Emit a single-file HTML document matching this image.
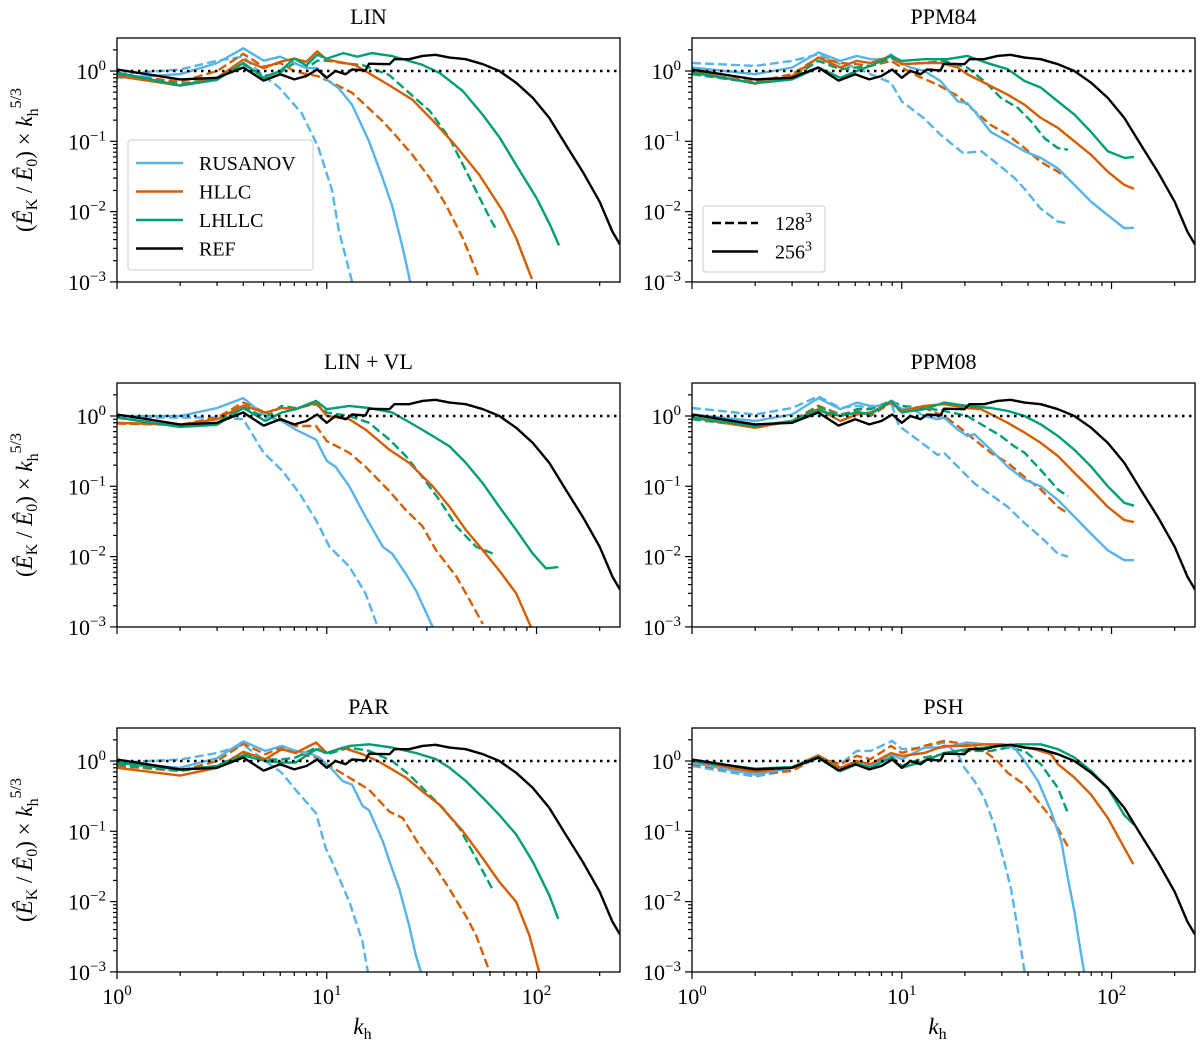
<!DOCTYPE html>
<html><head><meta charset="utf-8">
<style>
html,body{margin:0;padding:0;background:#fff;}
svg{display:block;font-family:"Liberation Serif","DejaVu Serif",serif;}
</style></head>
<body>
<svg id="fig" xmlns="http://www.w3.org/2000/svg" width="1200" height="1046" viewBox="0 0 1200 1046"></svg>
<script>
// ---------- DATA (k, value) ----------
const REF = [[1,1.05],[2,0.76],[3,0.8],[4,1.12],[5,0.73],[6,0.9],[7,0.76],[8,0.85],[9,1.05],[10,0.8],[11,1.0],[12.3,0.9],[13.2,1.05],[15.3,1.02],[15.9,1.27],[19.9,1.25],[21,1.47],[24.7,1.47],[28.6,1.64],[33,1.7],[38.5,1.55],[46,1.47],[55.5,1.25],[66.5,1.0],[80,0.68],[96,0.415],[115,0.215],[138,0.089],[166,0.037],[200,0.0138],[230,0.0052],[250,0.0034]];

const LIN_RUS_128 = [[1,0.9],[2,1.05],[3,1.4],[4,1.6],[5,0.85],[5.9,0.59],[7.6,0.25],[9.1,0.083],[10.6,0.02],[11.4,0.0055],[13.2,0.001]];
const LIN_RUS_256 = [[1,0.8],[2,0.9],[3,1.3],[4,2.1],[5,1.4],[6,1.6],[7,1.3],[8,1.1],[9,1.1],[10,0.75],[11.4,0.57],[13.2,0.33],[15.9,0.1],[18.4,0.031],[20.5,0.012],[23,0.0031],[25,0.001]];
const LIN_HLLC_128 = [[1,0.9],[2,0.7],[3,1.0],[4,1.75],[5,1.15],[6,1.3],[7,1.0],[8,0.9],[9,0.85],[10.2,0.72],[13.2,0.49],[18.4,0.195],[21.2,0.123],[25.6,0.064],[31,0.03],[37,0.0124],[44.5,0.0042],[53.5,0.0011]];
const LIN_HLLC_256 = [[1,0.85],[2,0.62],[3,0.8],[4,1.45],[5,1.1],[6,1.35],[7,1.5],[8,1.35],[9,1.9],[10,1.45],[13.6,1.22],[19.8,0.63],[25.6,0.39],[33,0.18],[41,0.088],[53.5,0.033],[69,0.0102],[80,0.0042],[95,0.0011]];
const LIN_LH_128 = [[1,0.9],[2,0.65],[3,0.8],[4,1.25],[5,0.85],[6,0.95],[7,1.3],[8,1.1],[9,1.4],[10,1.4],[12,1.3],[15,1.2],[19.8,0.88],[24.7,0.49],[31,0.27],[38.5,0.11],[48,0.03],[60,0.008],[64,0.0057]];
const LIN_LH_256 = [[1,0.95],[2,0.62],[3,0.75],[4,1.3],[5,0.8],[6,1.0],[7,1.5],[8,1.2],[9,1.7],[10,1.5],[12,1.8],[14,1.6],[16.4,1.8],[20.5,1.63],[28.6,1.22],[34.5,0.94],[44.5,0.52],[55.5,0.237],[67,0.111],[80,0.046],[100,0.0156],[116,0.0065],[128,0.0033]];

const P84_RUS_128 = [[1,1.3],[2,1.18],[3,1.39],[4,1.73],[5.1,1.25],[6.1,1.12],[7.1,0.9],[8.9,0.68],[10,0.37],[12.8,0.21],[15.3,0.124],[19.6,0.068],[24,0.072],[29,0.046],[34.5,0.03],[38.5,0.021],[46,0.011],[55.5,0.0072],[62,0.0068]];
const P84_RUS_256 = [[1,1.12],[2,0.9],[3,1.12],[4,1.83],[5.1,1.39],[6.1,1.64],[7.1,1.47],[8.2,1.47],[8.9,1.73],[10,1.3],[11,1.12],[12.8,1.0],[15.3,0.72],[18.5,0.37],[20.5,0.35],[22.2,0.27],[26.6,0.135],[32,0.1],[38.5,0.072],[46,0.058],[55.5,0.041],[66.5,0.024],[80,0.0138],[96,0.0089],[115,0.0058],[128,0.0059]];
const P84_HLLC_128 = [[1,0.95],[2,0.7],[3,0.9],[4,1.55],[5.1,1.3],[6.1,1.25],[7.1,1.18],[8.9,1.39],[10,1.12],[11.9,0.85],[14.8,0.64],[18.5,0.44],[22.2,0.27],[26.6,0.17],[32,0.124],[38.5,0.08],[46,0.051],[55.5,0.037],[62,0.03]];
const P84_HLLC_256 = [[1,1.0],[2,0.66],[3,0.85],[4,1.55],[5.1,1.12],[6.1,1.39],[7.1,1.3],[8.9,1.64],[10,1.25],[12.8,1.3],[15.3,1.3],[18.5,1.12],[20.5,0.9],[23.8,0.72],[32,0.46],[38.5,0.33],[46,0.215],[55.5,0.155],[66.5,0.1],[80,0.064],[96,0.037],[115,0.024],[128,0.021]];
const P84_LH_128 = [[1,0.9],[2,0.68],[3,0.8],[4,1.39],[5.1,1.06],[6.1,1.12],[7.1,1.18],[8.9,1.55],[10,1.25],[12.8,1.3],[15.9,1.39],[20.5,1.12],[24.7,0.72],[29.7,0.415],[35.7,0.3],[41.5,0.19],[48,0.11],[55.5,0.08],[62,0.076]];
const P84_LH_256 = [[1,0.95],[2,0.67],[3,0.76],[4,1.12],[5.1,0.8],[6.1,1.0],[7.1,1.18],[8.9,1.64],[10,1.39],[12.8,1.47],[16.5,1.47],[20.5,1.64],[26.6,1.25],[32,1.06],[38.5,0.72],[46,0.58],[55.5,0.37],[66.5,0.24],[80,0.135],[96,0.072],[115,0.058],[128,0.06]];

const LVL_RUS_128 = [[1,0.95],[2,0.95],[3,0.95],[4,0.9],[5,0.3],[6.1,0.17],[7.4,0.08],[8.9,0.033],[10.3,0.0138],[12.8,0.0072],[15.3,0.003],[17.5,0.001]];
const LVL_RUS_256 = [[1,1.0],[2,1.0],[3,1.3],[4,1.8],[5.1,1.0],[6.1,0.85],[7.1,0.64],[8.9,0.46],[10,0.23],[11,0.19],[12.8,0.1],[15.3,0.037],[18.5,0.0138],[20.5,0.011],[23.8,0.0057],[26.6,0.0033],[32,0.001]];
const LVL_HLLC_128 = [[1,0.78],[2,0.75],[3,0.95],[4,1.55],[5.1,1.12],[6.1,0.9],[7.1,0.72],[8.9,0.72],[10,0.44],[12.8,0.3],[15.3,0.19],[19.9,0.085],[23.8,0.046],[28.6,0.027],[33.2,0.0123],[41.5,0.0052],[48,0.0024],[55.5,0.0011]];
const LVL_HLLC_256 = [[1,0.8],[2,0.75],[3,0.9],[4,1.4],[5.1,1.12],[6.1,1.3],[7.1,1.25],[8.9,1.55],[10,1.0],[12.8,0.9],[15.3,0.64],[19.9,0.33],[24.7,0.215],[32,0.1],[38.5,0.051],[46,0.024],[55.5,0.0123],[66.5,0.0063],[80,0.003],[94,0.001]];
const LVL_LH_128 = [[1,0.95],[2,0.7],[3,0.8],[4,1.35],[5.1,0.95],[6.1,1.39],[7.1,1.3],[8.9,1.47],[10,1.12],[12.8,1.0],[15.9,0.8],[19.9,0.46],[23.8,0.27],[28.6,0.135],[34.4,0.064],[41.5,0.027],[51.5,0.0138],[62,0.011]];
const LVL_LH_256 = [[1,0.95],[2,0.7],[3,0.75],[4,1.3],[5.1,0.85],[6.1,1.12],[7.1,1.25],[8.9,1.64],[10,1.25],[12.8,1.39],[15.9,1.3],[20.5,1.12],[26.6,0.72],[32,0.52],[38.5,0.37],[46,0.215],[55.5,0.11],[66.5,0.051],[80,0.024],[96,0.011],[111,0.0068],[127,0.0071]];

const P08_RUS_128 = [[1,1.3],[2,1.05],[3,1.3],[4,1.9],[5.1,1.3],[6.1,1.39],[7.1,1.3],[8.9,1.55],[9.7,0.72],[11.9,0.46],[14.8,0.28],[15.9,0.3],[18.5,0.19],[22.2,0.11],[26.6,0.076],[32,0.051],[38.5,0.03],[46,0.019],[55.5,0.011],[62,0.01]];
const P08_RUS_256 = [[1,1.05],[2,0.85],[3,1.05],[4,1.8],[5.1,1.25],[6.1,1.55],[7.1,1.39],[8.2,1.39],[9,1.64],[10,1.25],[11,1.3],[12.8,1.0],[14.8,0.9],[15.9,0.95],[18.5,0.64],[20.5,0.52],[22.2,0.55],[26.6,0.33],[32,0.19],[38.5,0.124],[46,0.1],[55.5,0.064],[66.5,0.037],[80,0.021],[96,0.0123],[115,0.0089],[128,0.0089]];
const P08_HLLC_128 = [[1,0.95],[2,0.7],[3,0.85],[4,1.4],[5.1,1.05],[6.1,1.18],[7.1,1.0],[8.9,1.55],[10,1.12],[12.8,1.3],[15.9,1.0],[18.5,0.72],[22.2,0.46],[26.6,0.3],[32,0.215],[38.5,0.135],[46,0.09],[55.5,0.051],[62,0.041]];
const P08_HLLC_256 = [[1,0.95],[2,0.68],[3,0.85],[4,1.25],[5.1,0.85],[6.1,1.05],[7.1,1.12],[8.9,1.55],[10,1.18],[12.8,1.39],[15.9,1.47],[20.5,1.3],[23.8,1.25],[26.6,1.06],[32,0.8],[38.5,0.58],[46,0.415],[55.5,0.27],[66.5,0.155],[80,0.09],[96,0.051],[115,0.033],[128,0.031]];
const P08_LH_128 = [[1,0.9],[2,0.7],[3,0.85],[4,1.35],[5.1,1.0],[6.1,1.25],[7.1,1.25],[8.9,1.64],[10,1.39],[12.8,1.3],[15.9,1.18],[20.5,1.0],[24.7,0.72],[29.7,0.52],[34.4,0.37],[38.5,0.3],[46,0.17],[55.5,0.09],[62,0.072]];
const P08_LH_256 = [[1,0.95],[2,0.72],[3,0.85],[4,1.2],[5.1,1.0],[6.1,1.12],[7.1,1.06],[8.9,1.64],[10,1.12],[12.8,1.25],[15.9,1.55],[20.5,1.39],[26.6,1.3],[32,1.18],[38.5,1.0],[46,0.76],[55.5,0.52],[66.5,0.33],[80,0.19],[96,0.1],[115,0.058],[128,0.053]];

const PAR_RUS_128 = [[1,0.95],[2,1.05],[3,1.3],[4,1.7],[5.1,1.0],[6.1,0.68],[7.1,0.39],[8.9,0.18],[9.9,0.057],[10.6,0.037],[12.8,0.01],[14.8,0.0027],[15.7,0.001]];
const PAR_RUS_256 = [[1,0.95],[2,0.8],[3,1.1],[4,1.9],[5.1,1.39],[6.1,1.64],[7.1,1.39],[8.2,1.3],[9.2,1.12],[10.6,0.76],[11.9,0.52],[13.2,0.46],[14.8,0.23],[15.9,0.2],[18.5,0.072],[20.2,0.033],[22.2,0.015],[24.7,0.0046],[26.6,0.0017],[28.1,0.001]];
const PAR_HLLC_128 = [[1,0.85],[2,0.72],[3,1.0],[4,1.75],[5.1,1.25],[6.1,1.55],[7.1,1.3],[8.9,1.12],[10,0.9],[12.8,0.58],[15.9,0.39],[19.9,0.19],[23,0.155],[27.6,0.064],[33.2,0.03],[38.5,0.015],[46,0.0063],[51.5,0.0033],[59.8,0.001]];
const PAR_HLLC_256 = [[1,0.8],[2,0.62],[3,0.8],[4,1.35],[5.1,1.06],[6.1,1.47],[7.1,1.3],[8.9,1.83],[10,1.3],[11.9,1.55],[14.8,1.25],[17.5,1.0],[19.9,0.8],[23.8,0.58],[28.6,0.37],[34.4,0.24],[44.6,0.1],[55.5,0.041],[66.5,0.019],[80,0.0099],[92.5,0.0033],[103,0.001]];
const PAR_LH_128 = [[1,0.9],[2,0.72],[3,0.85],[4,1.3],[5.1,1.05],[6.1,1.05],[7.1,1.12],[8.9,1.55],[10,1.25],[12.8,1.55],[15.9,1.39],[20.5,1.0],[24.7,0.64],[29.7,0.37],[35.7,0.215],[43,0.11],[51.5,0.041],[62,0.0145]];
const PAR_LH_256 = [[1,0.95],[2,0.75],[3,0.85],[4,1.2],[5.1,1.0],[6.1,0.95],[7.1,0.95],[8.9,1.47],[10,1.3],[12.8,1.64],[15.9,1.73],[20.5,1.55],[26.6,1.3],[33.2,1.06],[38.5,0.8],[46,0.52],[55.5,0.3],[66.5,0.17],[80,0.09],[96,0.037],[115,0.0123],[127,0.0057]];

const PSH_RUS_128 = [[1,0.85],[2,0.6],[3,0.75],[4,1.1],[5.1,0.9],[6.1,1.39],[7.1,1.39],[9,1.93],[10,1.47],[12.8,1.55],[15.9,1.83],[18.5,1.25],[19.9,0.8],[22.2,0.52],[24.7,0.3],[27.6,0.124],[30.8,0.037],[33.2,0.015],[35.7,0.0041],[38.5,0.001]];
const PSH_RUS_256 = [[1,0.95],[2,0.64],[3,0.8],[4,1.1],[5.1,0.72],[6.1,0.9],[7.1,0.85],[8.9,1.25],[10,1.06],[12.8,1.55],[15.9,1.55],[20.5,1.83],[24.7,1.73],[29.7,1.64],[34.4,1.55],[38.5,1.0],[44.6,0.52],[51.5,0.19],[57.6,0.072],[62,0.021],[66.5,0.0072],[70,0.0027],[74,0.001]];
const PSH_HLLC_128 = [[1,0.9],[2,0.65],[3,0.72],[4,1.15],[5.1,0.9],[6.1,1.18],[7.1,1.06],[8.9,1.64],[10,1.3],[12.8,1.64],[15.9,1.93],[20.5,1.73],[24.7,1.39],[28.6,1.0],[32,0.68],[38.5,0.46],[46,0.24],[53.4,0.135],[62,0.06]];
const PSH_HLLC_256 = [[1,1.0],[2,0.7],[3,0.82],[4,1.2],[5.1,0.8],[6.1,1.0],[7.1,0.9],[8.9,1.3],[10,1.18],[12.8,1.3],[15.9,1.64],[20.5,1.64],[24.7,1.73],[29.7,1.73],[35.7,1.64],[43,1.47],[51.5,1.25],[55.5,0.9],[66.5,0.58],[80,0.33],[96,0.155],[115,0.058],[127,0.034]];
const PSH_LH_128 = [[1,0.95],[2,0.72],[3,0.82],[4,1.15],[5.1,0.76],[6.1,0.95],[7.1,0.85],[8.9,1.18],[10,0.85],[12.8,1.12],[15.9,1.25],[20.5,1.39],[26.6,1.39],[32,1.55],[38.5,1.39],[46,0.9],[55.5,0.415],[62,0.18]];
const PSH_LH_256 = [[1,1.0],[2,0.78],[3,0.82],[4,1.15],[5.1,0.72],[6.1,0.9],[7.1,0.8],[8.9,1.12],[10,0.8],[12.8,1.0],[15.9,1.3],[20.5,1.47],[24.7,1.55],[29.7,1.64],[35.7,1.73],[46,1.73],[55.5,1.47],[66.5,1.12],[80,0.72],[96,0.415],[115,0.17],[128,0.124]];

const PANEL_TITLES = ["LIN","PPM84","LIN + VL","PPM08","PAR","PSH"];
const X_TICK_LABELS = ["0","1","2"];
const Y_TICK_LABELS = ["0","−1","−2","−3"];

// ---------- LAYOUT ----------
const NS = "http://www.w3.org/2000/svg";
const svg = document.getElementById('fig');
const COL_X = [117, 692];
const ROW_Y = [38, 383, 728];
const PW = 503, PH = 244;
const XMAX = 250;
const DEC_X = PW / Math.log10(XMAX);
const DEC_Y = 70.3;
const ONE_OFF = 33;
const COLORS = {RUS:"#56B4E9", HLLC:"#D55E00", LH:"#009E73", REF:"#000"};

function mk(tag, attrs, parent){
  const e = document.createElementNS(NS, tag);
  for (const k in attrs) e.setAttribute(k, attrs[k]);
  (parent||svg).appendChild(e);
  return e;
}
function xs(p, k){ return COL_X[p%2] + Math.log10(k)*DEC_X; }
function ys(p, v){ return ROW_Y[Math.floor(p/2)] + ONE_OFF - Math.log10(v)*DEC_Y; }

const PANEL_CURVES = [
  [[LIN_RUS_128,'RUS',1],[LIN_HLLC_128,'HLLC',1],[LIN_LH_128,'LH',1],[LIN_RUS_256,'RUS',0],[LIN_HLLC_256,'HLLC',0],[LIN_LH_256,'LH',0]],
  [[P84_RUS_128,'RUS',1],[P84_HLLC_128,'HLLC',1],[P84_LH_128,'LH',1],[P84_RUS_256,'RUS',0],[P84_HLLC_256,'HLLC',0],[P84_LH_256,'LH',0]],
  [[LVL_RUS_128,'RUS',1],[LVL_HLLC_128,'HLLC',1],[LVL_LH_128,'LH',1],[LVL_RUS_256,'RUS',0],[LVL_HLLC_256,'HLLC',0],[LVL_LH_256,'LH',0]],
  [[P08_RUS_128,'RUS',1],[P08_HLLC_128,'HLLC',1],[P08_LH_128,'LH',1],[P08_RUS_256,'RUS',0],[P08_HLLC_256,'HLLC',0],[P08_LH_256,'LH',0]],
  [[PAR_RUS_128,'RUS',1],[PAR_HLLC_128,'HLLC',1],[PAR_LH_128,'LH',1],[PAR_RUS_256,'RUS',0],[PAR_HLLC_256,'HLLC',0],[PAR_LH_256,'LH',0]],
  [[PSH_RUS_128,'RUS',1],[PSH_HLLC_128,'HLLC',1],[PSH_LH_128,'LH',1],[PSH_RUS_256,'RUS',0],[PSH_HLLC_256,'HLLC',0],[PSH_LH_256,'LH',0]]
];

for (let p = 0; p < 6; p++){
  const x0 = COL_X[p%2], y0 = ROW_Y[Math.floor(p/2)];
  const g = mk('g', {});
  
  
  const clipId = 'clip'+p;
  const cp = mk('clipPath', {id: clipId}, g);
  mk('rect', {x:x0, y:y0, width:PW, height:PH}, cp);

  const t = mk('text', {x: x0+PW/2, y: y0-14, 'text-anchor':'middle', 'font-size':22}, g);
  t.textContent = PANEL_TITLES[p];
  
  

  const cg = mk('g', {'clip-path':'url(#'+clipId+')'}, g);
  PANEL_CURVES[p].forEach(([data, scheme, dashed]) => {
    const d = data.map((pt,i)=>(i?'L':'M')+xs(p,pt[0]).toFixed(1)+','+ys(p,pt[1]).toFixed(1)).join('');
    const path = mk('path', {d, fill:'none', stroke:COLORS[scheme], 'stroke-width':2.4, 'stroke-linejoin':'round'}, cg);
    if (dashed) path.setAttribute('stroke-dasharray', '9,4');
    
    
  });
  const rd = REF.map((pt,i)=>(i?'L':'M')+xs(p,pt[0]).toFixed(1)+','+ys(p,pt[1]).toFixed(1)).join('');
  const rp = mk('path', {d:rd, fill:'none', stroke:'#000', 'stroke-width':2.4, 'stroke-linejoin':'round'}, cg);
  
  
  const ref1 = mk('line', {x1:x0, x2:x0+PW, y1:ys(p,1), y2:ys(p,1), stroke:'#000', 'stroke-width':2.5, 'stroke-dasharray':'2.5,4.5'}, cg);
  
  

  const fr = mk('rect', {x:x0, y:y0, width:PW, height:PH, fill:'none', stroke:'#000', 'stroke-width':1.3}, g);
  
  

  // x ticks
  for (let e = 0; e <= 2; e++){
    for (let m = 1; m <= 9; m++){
      const k = m*Math.pow(10,e);
      if (k > XMAX) break;
      const X = xs(p,k), L = m===1?7:4;
      mk('line', {x1:X, x2:X, y1:y0+PH, y2:y0+PH+L, stroke:'#000', 'stroke-width':1.2}, g);
      if (m===1 && p>=4){
        const tl = mk('text', {x:X, y:y0+PH+32, 'text-anchor':'middle', 'font-size':22}, g);
        tl.innerHTML = '10<tspan dy="-9" font-size="15">'+X_TICK_LABELS[e]+'</tspan>';
        
        
      }
    }
  }
  // y ticks
  for (let e = -3; e <= 0; e++){
    for (let m = 1; m <= 9; m++){
      const v = m*Math.pow(10,e);
      const Y = ys(p,v);
      if (Y < y0-0.5) break;
      const L = m===1?7:4;
      mk('line', {x1:x0-L, x2:x0, y1:Y, y2:Y, stroke:'#000', 'stroke-width':1.2}, g);
      if (m===1){
        const tl = mk('text', {x:x0-11, y:Y+8, 'text-anchor':'end', 'font-size':22}, g);
        tl.innerHTML = '10<tspan dy="-9" font-size="15">'+Y_TICK_LABELS[-e]+'</tspan>';
        
        
      }
    }
  }
  // y label on left column
  if (p%2===0){
    const cy = y0+PH/2;
    const yl = mk('text', {x:0, y:0, transform:'translate(32,'+cy+') rotate(-90)', 'text-anchor':'middle', 'font-size':23}, g);
    yl.innerHTML = '(<tspan font-style="italic">Ê</tspan><tspan dy="5" font-size="16">K</tspan><tspan dy="-5"> / </tspan><tspan font-style="italic">Ê</tspan><tspan dy="5" font-size="16">0</tspan><tspan dy="-5">) × </tspan><tspan font-style="italic">k</tspan><tspan dy="6" font-size="16">h</tspan><tspan dy="-17" font-size="16">5/3</tspan>';
    
    
  }
  if (p>=4){
    const xl = mk('text', {x:x0+PW/2-6, y:1034, 'text-anchor':'middle', 'font-size':23}, g);
    xl.innerHTML = '<tspan font-style="italic">k</tspan><tspan dy="5" font-size="16">h</tspan>';
    
    
  }
}

// legend: schemes (LIN panel)
const LEG_NAMES = ["RUSANOV","HLLC","LHLLC","REF"];
const LEG_KEYS = ["RUS","HLLC","LH","REF"];
const lg = mk('g', {});


mk('rect', {x:128, y:140, width:185, height:130, rx:3, fill:'#fff', 'fill-opacity':0.85, stroke:'#ccc', 'stroke-width':1}, lg);
LEG_NAMES.forEach((n,i)=>{
  const yy = 163 + i*28.5;
  const ln = mk('line', {x1:136, x2:183, y1:yy, y2:yy, stroke:COLORS[LEG_KEYS[i]], 'stroke-width':2.6}, lg);
  
  
  const tx = mk('text', {x:199, y:yy+7, 'font-size':20}, lg);
  tx.textContent = n;
  
  
});
// legend: resolution (PPM84 panel)
const RES_NAMES = ["128","256"];
const lg2 = mk('g', {});


mk('rect', {x:703, y:206, width:122, height:66, rx:3, fill:'#fff', 'fill-opacity':0.85, stroke:'#ccc', 'stroke-width':1}, lg2);
RES_NAMES.forEach((n,i)=>{
  const yy = 223 + i*28.5;
  const ln = mk('line', {x1:712, x2:758, y1:yy, y2:yy, stroke:'#000', 'stroke-width':2.6}, lg2);
  if (i===0) ln.setAttribute('stroke-dasharray', '9,4');
  
  
  const tx = mk('text', {x:775, y:yy+7, 'font-size':20}, lg2);
  tx.innerHTML = n + '<tspan dy="-8" font-size="14">3</tspan>';
  
  
});
</script>
</body></html>
